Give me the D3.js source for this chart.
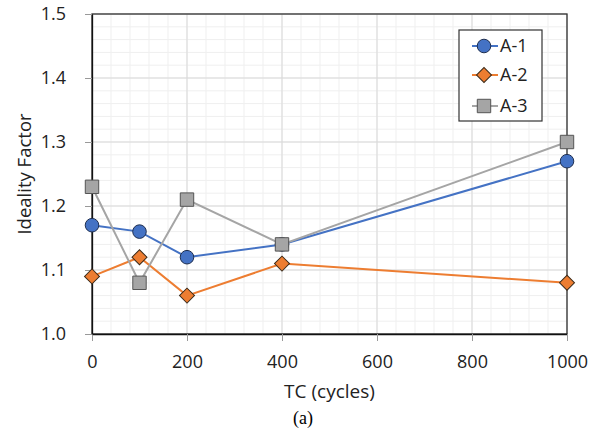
<!DOCTYPE html>
<html>
<head>
  <meta charset="UTF-8">
  <style>
    body { margin: 0; padding: 0; background: #fff; }
    svg { display: block; font-family: "Open Sans", "Liberation Sans", sans-serif; }
  </style>
</head>
<body>
  <svg></svg>
  <script src="https://d3js.org/d3.v7.min.js"></script>
  <script>
  let width = 600, height = 434;

  // data
  const cycles = [0, 100, 200, 400, 1000];
  const a1 = [1.17, 1.16, 1.12, 1.14, 1.27];
  const a2 = [1.09, 1.12, 1.06, 1.11, 1.08];
  const a3 = [1.23, 1.08, 1.21, 1.14, 1.30];
  const seriesNames = ["A-1", "A-2", "A-3"];
  const xTicks = [0, 200, 400, 600, 800, 1000];
  const yTicks = [1.0, 1.1, 1.2, 1.3, 1.4, 1.5];

  const colors = ["#4472C4", "#ED7D31", "#A5A5A5"];
  const shapes = [d3.symbolCircle, d3.symbolSquare, d3.symbolSquare];
  const sizes = [145, 112, 180];
  const rot = [0, 45, 0];
  const edge = ["#1f2f50", "#3a2a1a", "#555"];

  const margin = {left: 92, right: 33, top: 14, bottom: 100};

  let svg = d3.select("svg").attr("width", width).attr("height", height);

  let x = d3.scaleLinear().domain([0, 1000]).range([margin.left, width - margin.right]);
  let y = d3.scaleLinear().domain([1.0, 1.5]).range([height - margin.bottom, margin.top]);

  // minor grid
  let g = svg.append("g");
  g.selectAll(".vminor").data(d3.range(0, 1001, 40)).enter().append("line")
      .attr("x1", d => x(d)).attr("x2", d => x(d))
      .attr("y1", y(1.0)).attr("y2", y(1.5))
      .attr("stroke", "#efefef").attr("stroke-width", 1);
  g.selectAll(".hminor").data(d3.range(0, 26).map(i => 1.0 + i * 0.02)).enter().append("line")
      .attr("x1", x(0)).attr("x2", x(1000))
      .attr("y1", d => y(d)).attr("y2", d => y(d))
      .attr("stroke", "#efefef").attr("stroke-width", 1);
  // major grid
  g.selectAll(".vmajor").data(xTicks).enter().append("line")
      .attr("x1", d => x(d)).attr("x2", d => x(d))
      .attr("y1", y(1.0)).attr("y2", y(1.5))
      .attr("stroke", "#d9d9d9").attr("stroke-width", 1);
  g.selectAll(".hmajor").data(yTicks).enter().append("line")
      .attr("x1", x(0)).attr("x2", x(1000))
      .attr("y1", d => y(d)).attr("y2", d => y(d))
      .attr("stroke", "#d9d9d9").attr("stroke-width", 1);

  // frame
  svg.append("rect")
      .attr("x", x(0)).attr("y", y(1.5))
      .attr("width", x(1000) - x(0)).attr("height", y(1.0) - y(1.5))
      .attr("fill", "none").attr("stroke", "#333").attr("stroke-width", 1.3);

  // axes
  let xAxis = svg.append("g")
      .attr("transform", `translate(0,${y(1.0)})`)
      .call(d3.axisBottom(x).tickValues(xTicks).tickSize(7).tickSizeOuter(0).tickPadding(14)
          .tickFormat(d3.format("d")));
  let yAxis = svg.append("g")
      .attr("transform", `translate(${x(0)},0)`)
      .call(d3.axisLeft(y).tickValues(yTicks).tickSize(7).tickSizeOuter(0).tickPadding(19)
          .tickFormat(d3.format(".1f")));
  [xAxis, yAxis].forEach(a => {
      a.select(".domain").attr("stroke", "#111").attr("stroke-width", 1.3);
      a.selectAll(".tick line").attr("stroke", "#999");
      a.selectAll("text").attr("font-size", 18).attr("fill", "#222")
          .attr("font-family", "'Open Sans', sans-serif");
  });

  // series
  const series = [a1, a2, a3];
  const line = d3.line().x((d, i) => x(cycles[i])).y(d => y(d));
  series.forEach((s, k) => {
      svg.append("path").datum(s)
          .attr("d", line)
          .attr("fill", "none")
          .attr("stroke", colors[k]).attr("stroke-width", 2);
  });
  series.forEach((s, k) => {
      svg.append("g").selectAll("path").data(s).enter().append("path")
          .attr("d", d3.symbol().type(shapes[k]).size(sizes[k]))
          .attr("transform", (d, i) => `translate(${x(cycles[i])},${y(d)}) rotate(${rot[k]})`)
          .attr("fill", colors[k])
          .attr("stroke", edge[k]).attr("stroke-width", 1);
  });

  // legend
  let legend = svg.append("g").attr("transform", "translate(459,30)");
  legend.append("rect")
      .attr("width", 83).attr("height", 91)
      .attr("fill", "#fff").attr("stroke", "#333").attr("stroke-width", 1.2);
  seriesNames.forEach((name, k) => {
      let ly = [16, 45, 76][k];
      legend.append("line")
          .attr("x1", 13).attr("x2", 39).attr("y1", ly).attr("y2", ly)
          .attr("stroke", colors[k]).attr("stroke-width", 2);
      legend.append("path")
          .attr("d", d3.symbol().type(shapes[k]).size(sizes[k]))
          .attr("transform", `translate(25,${ly}) rotate(${rot[k]})`)
          .attr("fill", colors[k])
          .attr("stroke", edge[k]).attr("stroke-width", 1);
      legend.append("text")
          .attr("x", 41).attr("y", ly).attr("dy", "0.36em")
          .attr("font-size", 18).attr("fill", "#222")
          .text(name);
  });

  // axis titles
  svg.append("text")
      .attr("x", (x(0) + x(1000)) / 2).attr("y", 398)
      .attr("text-anchor", "middle").attr("font-size", 19).attr("fill", "#222")
      .text("TC (cycles)");
  svg.append("text")
      .attr("transform", `translate(31,${(y(1.0) + y(1.5)) / 2}) rotate(-90)`)
      .attr("text-anchor", "middle").attr("font-size", 18.5).attr("fill", "#222")
      .text("Ideality Factor");
  svg.append("text")
      .attr("x", 303).attr("y", 424)
      .attr("text-anchor", "middle").attr("font-size", 18).attr("fill", "#000")
      .attr("font-family", "'Liberation Serif', serif")
      .text("(a)");
  </script>
</body>
</html>
